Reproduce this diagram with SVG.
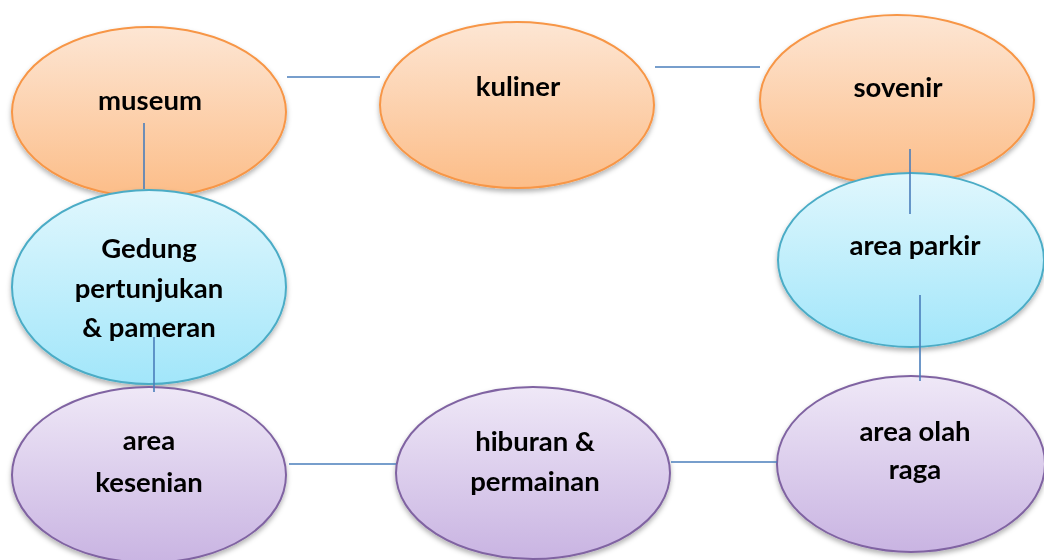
<svg xmlns="http://www.w3.org/2000/svg" width="1044" height="560" viewBox="0 0 1044 560">
<style>
.o{fill:url(#go);stroke:#f79646;stroke-width:2}
.b{fill:url(#gb);stroke:#4bacc6;stroke-width:2}
.p{fill:url(#gp);stroke:#8064a2;stroke-width:2}
text{font-family:Lato,"Liberation Sans",sans-serif;font-weight:bold;font-size:27.5px;fill:#000;text-anchor:middle}
.c line{stroke:#4a7ebb;stroke-width:1.6}
</style>
<defs>
<linearGradient id="go" x1="0" y1="0" x2="0" y2="1"><stop offset="0" stop-color="#fde6d4"/><stop offset="1" stop-color="#fcbd88"/></linearGradient>
<linearGradient id="gb" x1="0" y1="0" x2="0" y2="1"><stop offset="0" stop-color="#e0f7fd"/><stop offset="1" stop-color="#a2e6fa"/></linearGradient>
<linearGradient id="gp" x1="0" y1="0" x2="0" y2="1"><stop offset="0" stop-color="#efe8f7"/><stop offset="1" stop-color="#c9b4e2"/></linearGradient>
<filter id="sh" x="-10%" y="-10%" width="120%" height="130%"><feDropShadow dx="0" dy="3" stdDeviation="2.5" flood-color="#000" flood-opacity="0.3"/></filter>
</defs>
<g id="museum" filter="url(#sh)"><ellipse class="o" cx="149" cy="112" rx="137" ry="85"/><text x="150" y="110">museum</text></g>
<g id="kuliner" filter="url(#sh)"><ellipse class="o" cx="517" cy="105" rx="137" ry="83"/><text x="518" y="96">kuliner</text></g>
<g id="sovenir" filter="url(#sh)"><ellipse class="o" cx="897" cy="100" rx="137" ry="85"/><text x="898" y="97">sovenir</text></g>
<g id="gedung" filter="url(#sh)"><ellipse class="b" cx="149" cy="287" rx="137" ry="97"/><text x="149" y="258">Gedung</text><text x="149" y="298">pertunjukan</text><text x="149" y="337">&amp; pameran</text></g>
<g id="parkir" filter="url(#sh)"><ellipse class="b" cx="911" cy="260" rx="133" ry="87"/><text x="915" y="255">area parkir</text></g>
<g id="kesenian" filter="url(#sh)"><ellipse class="p" cx="149" cy="475" rx="137" ry="88"/><text x="149" y="450">area</text><text x="149" y="492">kesenian</text></g>
<g id="hiburan" filter="url(#sh)"><ellipse class="p" cx="533" cy="473" rx="137" ry="86"/><text x="535" y="451">hiburan &amp;</text><text x="535" y="491">permainan</text></g>
<g id="olahraga" filter="url(#sh)"><ellipse class="p" cx="911" cy="464" rx="134" ry="88"/><text x="915" y="441">area olah</text><text x="915" y="479">raga</text></g>
<g id="connectors" class="c">
<line x1="287" y1="77" x2="380" y2="77"/>
<line x1="655" y1="67" x2="760" y2="67"/>
<line x1="910" y1="149" x2="910" y2="214"/>
<line x1="920" y1="295" x2="920" y2="381"/>
<line x1="144" y1="123" x2="144" y2="189"/>
<line x1="154" y1="337" x2="154" y2="392"/>
<line x1="289" y1="464" x2="396" y2="464"/>
<line x1="671" y1="462" x2="777" y2="462"/>
</g>
</svg>
